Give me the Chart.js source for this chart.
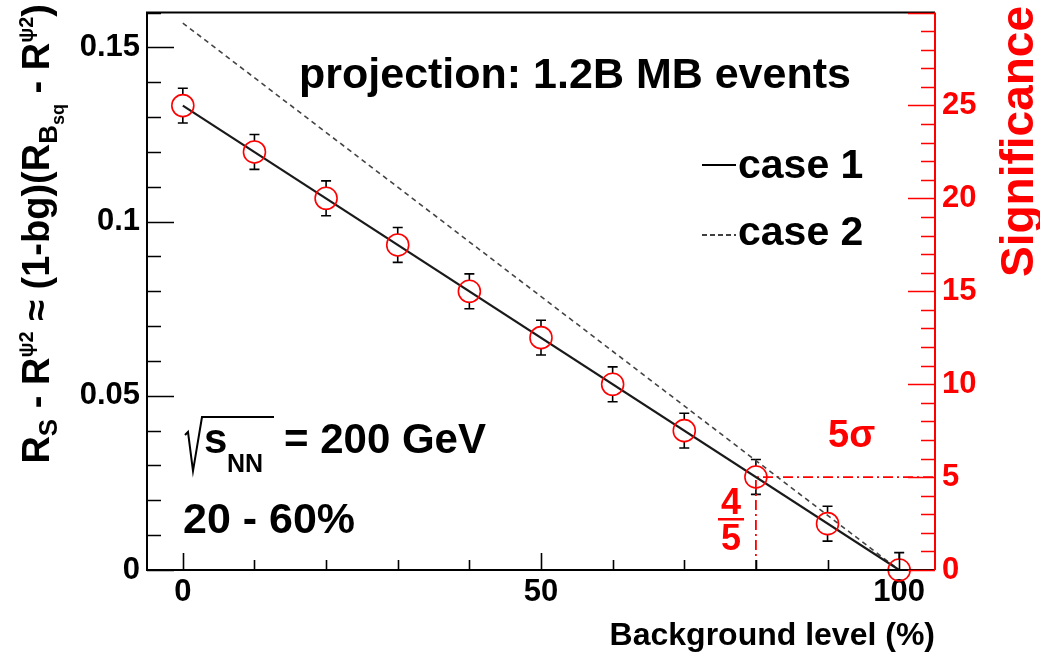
<!DOCTYPE html>
<html>
<head>
<meta charset="utf-8">
<script src="https://cdn.jsdelivr.net/npm/chart.js@4.4.1/dist/chart.umd.min.js"></script>
<style>
  html, body { margin: 0; padding: 0; background: #fff; }
  #wrap { width: 1040px; height: 657px; }
</style>
</head>
<body>
<div id="wrap"><canvas id="sigChart" width="1040" height="657"></canvas></div>
<script>
// background level (%) and the projected difference with its error
const bgLevels   = [0, 10, 20, 30, 40, 50, 60, 70, 80, 90, 100];
const diffValues = [0.1333, 0.1200, 0.1067, 0.0933, 0.0800, 0.0667, 0.0533, 0.0400, 0.0267, 0.0133, 0];
const diffErrors = [0.005, 0.005, 0.005, 0.005, 0.005, 0.005, 0.005, 0.005, 0.005, 0.005, 0.005];

// the two straight expectation lines
const lineX  = [0, 100];
const case1Y = [0.1333, 0];
const case2Y = [0.157, 0];
const seriesNames = ['case 1', 'case 2'];

// 5 sigma guide (right axis units)
const sigLineX = [80, 80, 105];
const sigLineY = [0, 5, 5];

// axes
const xTicks = [0, 50, 100];
const xTickLabels = ['0', '50', '100'];
const yTicks = [0, 0.05, 0.1, 0.15];
const yTickLabels = ['0', '0.05', '0.1', '0.15'];
const sigTicks = [0, 5, 10, 15, 20, 25];
const sigTickLabels = ['0', '5', '10', '15', '20', '25'];

const FONT = '"Liberation Sans", Arial, Helvetica, sans-serif';
const RED = '#ff0000';
const MARK_R = 11;

function fixedTicks(values) {
  return function (axis) { axis.ticks = values.map(v => ({ value: v })); };
}

// pin a scale's size and drop the label overhang padding chart.js adds
function pinSize(key, size) {
  return function (s) {
    s[key] = size;
    s.paddingTop = 0; s.paddingBottom = 0;
    s.paddingLeft = 0; s.paddingRight = 0;
  };
}

function f(size, weight) {
  return (weight || 'bold') + ' ' + size + 'px ' + FONT;
}

function richWidth(ctx, segs) {
  let w = 0;
  segs.forEach(s => { ctx.font = s.font; w += ctx.measureText(s.t).width; });
  return w;
}

function drawRich(ctx, segs, x0, y0) {
  let x = x0;
  segs.forEach(s => {
    ctx.font = s.font;
    ctx.fillText(s.t, x, y0 + (s.dy || 0));
    x += ctx.measureText(s.t).width;
  });
}

const rootStyle = {
  id: 'rootStyle',
  beforeDatasetsDraw(chart) {
    const { ctx, chartArea: a, scales: { x, y } } = chart;
    ctx.save();
    ctx.beginPath();
    ctx.rect(a.left, a.top, a.right - a.left, a.bottom - a.top);
    ctx.clip();
    ctx.strokeStyle = '#000';
    ctx.lineWidth = 1.6;
    bgLevels.forEach((b, i) => {
      const px = x.getPixelForValue(b);
      const py = y.getPixelForValue(diffValues[i]);
      const hi = y.getPixelForValue(diffValues[i] + diffErrors[i]);
      const lo = y.getPixelForValue(diffValues[i] - diffErrors[i]);
      ctx.beginPath();
      ctx.moveTo(px, hi); ctx.lineTo(px, py - MARK_R);
      ctx.moveTo(px, py + MARK_R); ctx.lineTo(px, lo);
      ctx.moveTo(px - 5, hi); ctx.lineTo(px + 5, hi);
      ctx.moveTo(px - 5, lo); ctx.lineTo(px + 5, lo);
      ctx.stroke();
    });
    ctx.restore();
  },
  afterDraw(chart) {
    const { ctx, chartArea: a, scales: { x, y, y2 } } = chart;
    ctx.save();

    // frame
    ctx.strokeStyle = '#000';
    ctx.lineWidth = 2;
    ctx.beginPath();
    ctx.moveTo(a.right, a.top);
    ctx.lineTo(a.left, a.top);
    ctx.lineTo(a.left, a.bottom);
    ctx.lineTo(a.right, a.bottom);
    ctx.stroke();

    // inner ticks, left axis
    ctx.lineWidth = 1.6;
    ctx.beginPath();
    for (let k = 0; k <= 16; k++) {
      const py = Math.round(y.getPixelForValue(k * 0.01)) + 0.5;
      const len = k % 5 === 0 ? 27 : 14;
      ctx.moveTo(a.left, py); ctx.lineTo(a.left + len, py);
    }
    // bottom axis
    for (let v = 0; v <= 100; v += 10) {
      const px = Math.round(x.getPixelForValue(v)) + 0.5;
      const len = v % 50 === 0 ? 17 : 10;
      ctx.moveTo(px, a.bottom); ctx.lineTo(px, a.bottom - len);
    }
    ctx.stroke();

    // right axis in red
    ctx.strokeStyle = RED;
    ctx.lineWidth = 2;
    ctx.beginPath();
    ctx.moveTo(a.right, a.top); ctx.lineTo(a.right, a.bottom);
    ctx.stroke();
    ctx.lineWidth = 1.6;
    ctx.beginPath();
    for (let k = 0; k <= 30; k++) {
      const py = Math.round(y2.getPixelForValue(k)) + 0.5;
      const len = k % 5 === 0 ? 27 : 14;
      ctx.moveTo(a.right, py); ctx.lineTo(a.right - len, py);
    }
    ctx.stroke();

    // axis titles
    ctx.fillStyle = '#000';
    ctx.textBaseline = 'alphabetic';
    ctx.textAlign = 'right';
    ctx.font = f(32);
    ctx.fillText('Background level (%)', a.right, 645);

    const big = f(38), sub = f(26), sup = f(20), subsub = f(18);
    const ytitle = [
      { t: 'R', font: big }, { t: 'S', font: sub, dy: 8 },
      { t: ' - R', font: big }, { t: 'ψ2', font: sup, dy: -16 },
      { t: ' ≈ (1-bg)(R', font: big }, { t: 'B', font: sub, dy: 8 }, { t: 'sq', font: subsub, dy: 15 },
      { t: ' - R', font: big }, { t: 'ψ2', font: sup, dy: -16 },
      { t: ')', font: big }
    ];
    ctx.textAlign = 'left';
    ctx.save();
    ctx.translate(49, 4);
    ctx.rotate(-Math.PI / 2);
    drawRich(ctx, ytitle, -richWidth(ctx, ytitle), 0);
    ctx.restore();

    ctx.save();
    ctx.fillStyle = RED;
    ctx.font = f(46);
    ctx.textAlign = 'right';
    ctx.translate(1033, 6);
    ctx.rotate(-Math.PI / 2);
    ctx.fillText('Significance', 0, 0);
    ctx.restore();

    // labels inside the frame
    ctx.fillStyle = '#000';
    ctx.textAlign = 'left';
    ctx.font = f(43);
    ctx.fillText('projection: 1.2B MB events', 299, 88);

    // legend
    ctx.font = f(41);
    ctx.fillText(seriesNames[0], 738, 178);
    ctx.fillText(seriesNames[1], 738, 245);
    ctx.strokeStyle = '#000';
    ctx.lineWidth = 2;
    ctx.beginPath();
    ctx.moveTo(702, 165); ctx.lineTo(736, 165);
    ctx.stroke();
    ctx.setLineDash([5, 3]);
    ctx.lineWidth = 1.6;
    ctx.beginPath();
    ctx.moveTo(702, 235); ctx.lineTo(736, 235);
    ctx.stroke();
    ctx.setLineDash([]);

    // sqrt(s_NN) = 200 GeV
    ctx.lineWidth = 2;
    ctx.beginPath();
    ctx.moveTo(185, 435); ctx.lineTo(188, 432);
    ctx.lineTo(193, 471); ctx.lineTo(202, 417); ctx.lineTo(274, 417);
    ctx.stroke();
    ctx.font = f(42);
    ctx.fillText('s', 204, 453);
    ctx.font = f(25);
    ctx.fillText('NN', 227, 472);
    ctx.font = f(42);
    ctx.fillText('= 200 GeV', 284, 453);
    ctx.font = f(43);
    ctx.fillText('20 - 60%', 183, 533);

    // 5 sigma and 4/5 marks
    ctx.fillStyle = RED;
    ctx.font = f(38);
    ctx.fillText('5σ', 828, 447);
    ctx.textAlign = 'center';
    ctx.font = f(36);
    ctx.fillText('4', 731, 514);
    ctx.fillText('5', 731, 550);
    ctx.fillRect(718, 518, 26, 2.5);

    ctx.restore();
  }
};

const tickFont = { family: FONT, size: 31, weight: 'bold' };

new Chart(document.getElementById('sigChart'), {
  type: 'scatter',
  data: {
    datasets: [
      {
        label: 'projection',
        data: bgLevels.map((b, i) => ({ x: b, y: diffValues[i] })),
        yAxisID: 'y',
        pointRadius: MARK_R,
        pointBorderColor: RED,
        pointBackgroundColor: 'rgba(0,0,0,0)',
        pointBorderWidth: 1.6,
        clip: false,
        order: 0
      },
      {
        label: seriesNames[0],
        data: lineX.map((v, i) => ({ x: v, y: case1Y[i] })),
        yAxisID: 'y',
        showLine: true,
        borderColor: '#1a1a1a',
        borderWidth: 2.2,
        pointRadius: 0,
        order: 1
      },
      {
        label: seriesNames[1],
        data: lineX.map((v, i) => ({ x: v, y: case2Y[i] })),
        yAxisID: 'y',
        showLine: true,
        borderColor: '#444',
        borderWidth: 1.6,
        borderDash: [5, 4],
        pointRadius: 0,
        order: 2
      },
      {
        label: '5 sigma',
        data: sigLineX.map((v, i) => ({ x: v, y: sigLineY[i] })),
        yAxisID: 'y2',
        showLine: true,
        borderColor: RED,
        borderWidth: 1.8,
        borderDash: [10, 4, 2, 4],
        pointRadius: 0,
        order: 3
      }
    ]
  },
  options: {
    responsive: false,
    animation: false,
    devicePixelRatio: 1,
    layout: { padding: { top: 10, left: 0, right: 0, bottom: 0 } },
    plugins: { legend: { display: false }, tooltip: { enabled: false } },
    scales: {
      x: {
        type: 'linear', min: -5, max: 105,
        afterBuildTicks: fixedTicks(xTicks),
        afterFit: pinSize('height', 87),
        grid: { display: false, drawTicks: false },
        border: { display: false },
        ticks: {
          font: tickFont, color: '#000', padding: 4, maxRotation: 0, autoSkip: false,
          callback: (v, i) => xTickLabels[i]
        }
      },
      y: {
        type: 'linear', position: 'left', min: 0, max: 0.16,
        afterBuildTicks: fixedTicks(yTicks),
        afterFit: pinSize('width', 147),
        grid: { display: false, drawTicks: false },
        border: { display: false },
        ticks: {
          font: tickFont, color: '#000', padding: 7, autoSkip: false,
          callback: (v, i) => yTickLabels[i]
        }
      },
      y2: {
        type: 'linear', position: 'right', min: 0, max: 30,
        afterBuildTicks: fixedTicks(sigTicks),
        afterFit: pinSize('width', 105),
        grid: { display: false, drawTicks: false },
        border: { display: false },
        ticks: {
          font: tickFont, color: RED, padding: 7, autoSkip: false,
          callback: (v, i) => sigTickLabels[i]
        }
      }
    }
  },
  plugins: [rootStyle]
});
</script>
</body>
</html>
